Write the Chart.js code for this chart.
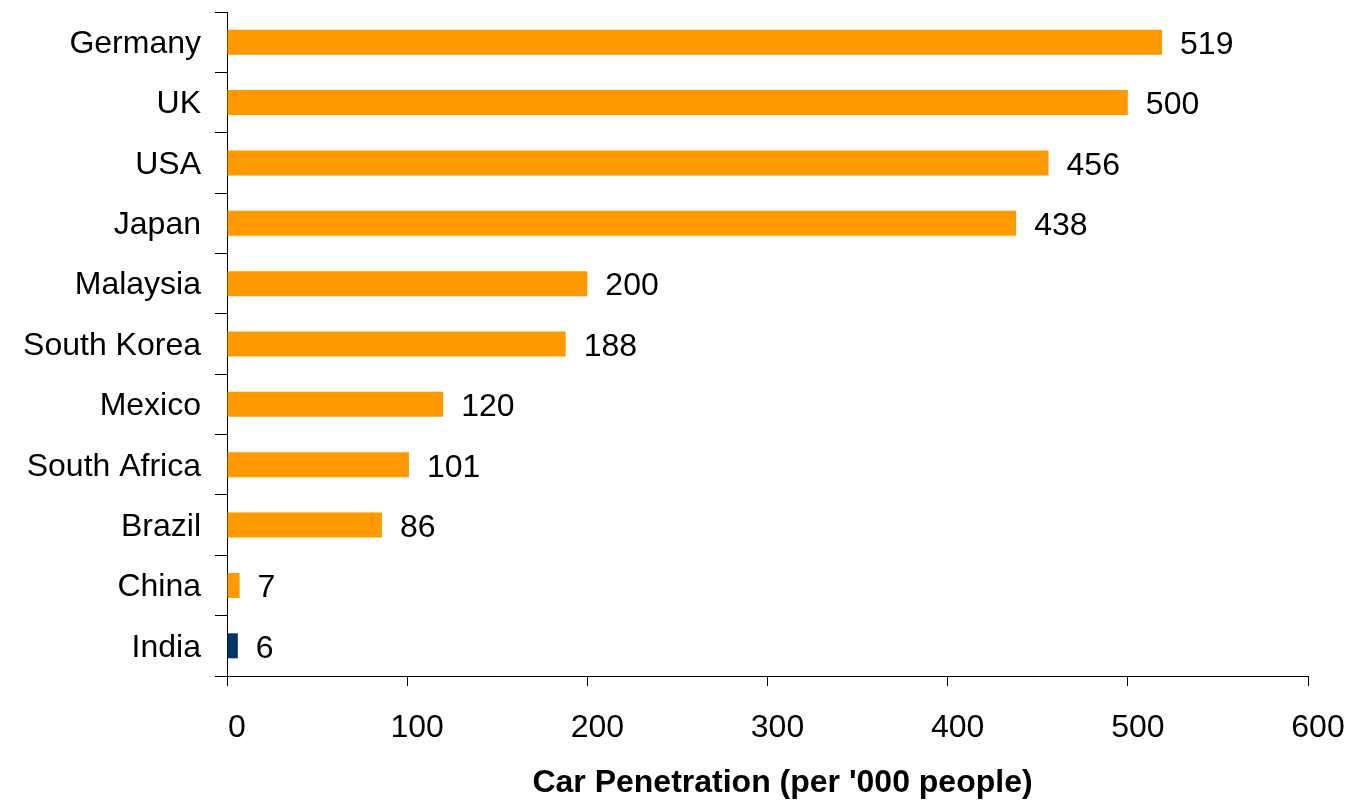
<!DOCTYPE html>
<html>
<head>
<meta charset="utf-8">
<title>Car Penetration</title>
<script src="https://cdn.jsdelivr.net/npm/chart.js@4/dist/chart.umd.min.js"></script>
<style>
  html, body { margin: 0; padding: 0; background: #ffffff; }
  #wrap { width: 1359px; height: 801px; position: relative; }
</style>
</head>
<body>
<div id="wrap"><canvas id="chart"></canvas></div>
<script>
// Cars per thousand people, by country
const countries = ['Germany', 'UK', 'USA', 'Japan', 'Malaysia', 'South Korea', 'Mexico', 'South Africa', 'Brazil', 'China', 'India'];
const carsPerThousand = [519, 500, 456, 438, 200, 188, 120, 101, 86, 7, 6];
const highlightCountry = 'India';
const axisTicks = [0, 100, 200, 300, 400, 500, 600];
const axisTitle = "Car Penetration (per '000 people)";

const ORANGE = '#FF9900';
const NAVY = '#003366';
const FONT = "'Liberation Sans', Arial, sans-serif";

const barColors = countries.map(c => c === highlightCountry ? NAVY : ORANGE);

// Value written just past the end of each bar
const valueLabels = {
  id: 'valueLabels',
  afterDatasetsDraw(chart) {
    const ctx = chart.ctx;
    const meta = chart.getDatasetMeta(0);
    ctx.save();
    ctx.font = '32px ' + FONT;
    ctx.fillStyle = '#000';
    ctx.textAlign = 'left';
    ctx.textBaseline = 'middle';
    meta.data.forEach((bar, i) => {
      ctx.fillText(String(chart.data.datasets[0].data[i]), bar.x + 18, bar.y + 3);
    });
    ctx.restore();
  }
};

// Bold axis caption under the value axis
const axisCaption = {
  id: 'axisCaption',
  afterDraw(chart) {
    const ctx = chart.ctx;
    const area = chart.chartArea;
    ctx.save();
    ctx.font = 'bold 32px ' + FONT;
    ctx.fillStyle = '#000';
    ctx.textAlign = 'center';
    ctx.textBaseline = 'middle';
    ctx.fillText(axisTitle, (area.left + area.right) / 2 + 15, 783);
    ctx.restore();
  }
};

new Chart(document.getElementById('chart'), {
  type: 'bar',
  data: {
    labels: countries,
    datasets: [{
      data: carsPerThousand,
      backgroundColor: barColors,
      borderWidth: 0,
      barPercentage: 0.414,
      categoryPercentage: 1.0
    }]
  },
  options: {
    indexAxis: 'y',
    responsive: true,
    maintainAspectRatio: false,
    animation: false,
    layout: { padding: { left: 0, right: 51, top: 12, bottom: 0 } },
    plugins: {
      legend: { display: false },
      tooltip: { enabled: false }
    },
    scales: {
      x: {
        type: 'linear',
        position: 'bottom',
        min: axisTicks[0],
        max: axisTicks[axisTicks.length - 1],
        afterBuildTicks(scale) {
          scale.ticks = axisTicks.map(v => ({ value: v }));
        },
        afterFit(scale) {
          scale.height = 125;
          scale.paddingLeft = 0;
          scale.paddingRight = 0;
        },
        grid: {
          display: true,
          drawOnChartArea: false,
          drawTicks: true,
          tickLength: 10,
          color: '#000',
          lineWidth: 1
        },
        border: { display: true, color: '#000', width: 1 },
        ticks: {
          font: { family: FONT, size: 32 },
          color: '#000',
          padding: 23,
          labelOffset: 10,
          maxRotation: 0,
          autoSkip: false
        }
      },
      y: {
        type: 'category',
        position: 'left',
        offset: true,
        afterFit(scale) {
          scale.width = 227;
          scale.paddingTop = 0;
          scale.paddingBottom = 0;
        },
        grid: {
          display: true,
          offset: true,
          drawOnChartArea: false,
          drawTicks: true,
          tickLength: 12,
          color: '#000',
          lineWidth: 1
        },
        border: { display: true, color: '#000', width: 1 },
        ticks: {
          font: { family: FONT, size: 32 },
          color: '#000',
          padding: 14,
          labelOffset: 2,
          autoSkip: false
        }
      }
    }
  },
  plugins: [valueLabels, axisCaption]
});
</script>
</body>
</html>
